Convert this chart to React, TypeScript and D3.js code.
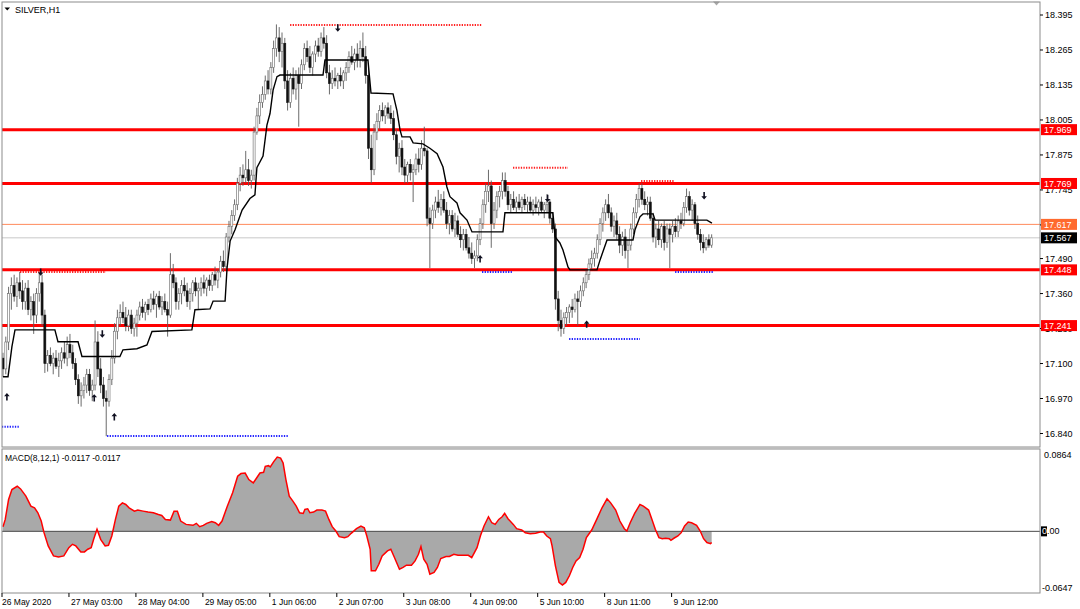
import React from 'react';
import * as d3 from 'd3';

const W = 1080;
const H = 609;

// ---------- time axis ----------
const timeLabels = ["26 May 2020", "27 May 03:00", "28 May 04:00", "29 May 05:00", "1 Jun 06:00", "2 Jun 07:00", "3 Jun 08:00", "4 Jun 09:00", "5 Jun 10:00", "8 Jun 11:00", "9 Jun 12:00"];
const barsPerLabel = 24;

// ---------- price axis ----------
const priceTicks = [18.395, 18.265, 18.135, 18.005, 17.875, 17.745, 17.615, 17.49, 17.36, 17.23, 17.1, 16.97, 16.84];
const levelLines = [17.969, 17.769, 17.448, 17.241];
const askPrice = 17.617;
const bidPrice = 17.567;

// ---------- candles [open, high, low, close] per label period ----------
const bars26May = [
  [17.12,17.14,17.05,17.08],[17.08,17.20,17.06,17.18],[17.18,17.385,17.15,17.36],[17.36,17.42,17.30,17.39],
  [17.39,17.43,17.33,17.35],[17.35,17.42,17.31,17.40],[17.40,17.44,17.34,17.37],[17.37,17.41,17.30,17.33],
  [17.33,17.40,17.30,17.38],[17.38,17.41,17.28,17.30],[17.30,17.35,17.26,17.33],[17.33,17.36,17.21,17.28],
  [17.28,17.38,17.25,17.36],[17.36,17.44,17.33,17.40],[17.40,17.43,17.24,17.28],[17.28,17.30,17.065,17.10],
  [17.10,17.15,17.07,17.13],[17.13,17.16,17.09,17.10],[17.10,17.14,17.06,17.12],[17.12,17.15,17.08,17.09],
  [17.09,17.14,17.05,17.11],[17.11,17.16,17.08,17.14],[17.14,17.18,17.10,17.12],[17.12,17.20,17.09,17.17],
];
const bars27May = [
  [17.17,17.21,17.12,17.14],[17.14,17.17,17.08,17.10],[17.10,17.12,17.02,17.04],[17.04,17.06,16.95,16.98],
  [16.98,17.03,16.94,17.00],[17.00,17.05,16.97,17.02],[17.02,17.08,16.99,17.06],[17.06,17.08,16.98,17.00],
  [17.00,17.04,16.96,17.02],[17.02,17.26,17.00,17.18],[17.18,17.22,17.05,17.08],[17.08,17.12,16.99,17.02],
  [17.02,17.05,16.94,16.97],[16.97,17.00,16.83,16.96],[16.96,17.06,16.94,17.04],[17.04,17.15,17.02,17.12],
  [17.12,17.25,17.10,17.22],[17.22,17.30,17.19,17.27],[17.27,17.32,17.24,17.29],[17.29,17.33,17.25,17.27],
  [17.27,17.31,17.22,17.24],[17.24,17.30,17.22,17.28],[17.28,17.30,17.21,17.23],[17.23,17.27,17.20,17.25],
];
const bars28May = [
  [17.25,17.30,17.20,17.28],[17.28,17.33,17.26,17.31],[17.31,17.34,17.27,17.29],[17.29,17.33,17.26,17.32],
  [17.32,17.34,17.28,17.30],[17.30,17.36,17.29,17.34],[17.34,17.37,17.30,17.32],[17.32,17.36,17.27,17.35],
  [17.35,17.37,17.30,17.31],[17.31,17.35,17.28,17.33],[17.33,17.36,17.29,17.30],[17.30,17.33,17.20,17.28],
  [17.28,17.51,17.27,17.43],[17.43,17.47,17.38,17.40],[17.40,17.42,17.30,17.33],[17.33,17.38,17.30,17.36],
  [17.36,17.41,17.32,17.39],[17.39,17.42,17.35,17.37],[17.37,17.40,17.31,17.33],[17.33,17.38,17.30,17.36],
  [17.36,17.41,17.33,17.40],[17.40,17.42,17.35,17.37],[17.37,17.40,17.30,17.38],[17.38,17.42,17.35,17.40],
];
const bars29May = [
  [17.40,17.43,17.36,17.38],[17.38,17.42,17.35,17.41],[17.41,17.43,17.37,17.39],[17.39,17.44,17.37,17.43],
  [17.43,17.46,17.39,17.41],[17.41,17.45,17.38,17.44],[17.44,17.50,17.42,17.48],[17.48,17.52,17.44,17.46],
  [17.46,17.585,17.45,17.57],[17.57,17.63,17.55,17.61],[17.61,17.67,17.58,17.65],[17.65,17.71,17.63,17.69],
  [17.69,17.79,17.67,17.77],[17.77,17.83,17.74,17.80],[17.80,17.84,17.76,17.79],[17.79,17.89,17.77,17.82],
  [17.82,17.86,17.76,17.78],[17.78,17.82,17.75,17.80],[17.80,17.98,17.78,17.96],[17.96,18.05,17.95,18.02],
  [18.02,18.10,17.99,18.07],[18.07,18.13,18.05,18.10],[18.10,18.17,18.08,18.15],[18.15,18.19,18.10,18.12],
];
const bars1Jun = [
  [18.12,18.22,18.10,18.20],[18.20,18.30,18.18,18.27],[18.27,18.36,18.24,18.31],[18.31,18.35,18.22,18.26],
  [18.26,18.33,18.20,18.29],[18.29,18.31,18.12,18.15],[18.15,18.19,18.04,18.07],[18.07,18.18,18.05,18.16],
  [18.16,18.20,18.10,18.12],[18.12,18.19,18.08,18.17],[18.17,18.20,17.98,18.14],[18.14,18.23,18.12,18.21],
  [18.21,18.29,18.19,18.27],[18.27,18.30,18.22,18.24],[18.24,18.28,18.18,18.20],[18.20,18.26,18.17,18.25],
  [18.25,18.30,18.22,18.28],[18.28,18.31,18.24,18.26],[18.26,18.33,18.24,18.31],[18.31,18.35,18.27,18.29],
  [18.29,18.32,18.16,18.18],[18.18,18.21,18.10,18.14],[18.14,18.19,18.12,18.16],[18.16,18.20,18.13,18.15],
];
const bars2Jun = [
  [18.15,18.18,18.12,18.17],[18.17,18.20,18.13,18.15],[18.15,18.19,18.12,18.18],[18.18,18.22,18.15,18.20],
  [18.20,18.26,18.18,18.24],[18.24,18.28,18.21,18.22],[18.22,18.27,18.19,18.25],[18.25,18.29,18.20,18.23],
  [18.23,18.30,18.20,18.27],[18.27,18.33,18.22,18.24],[18.24,18.28,18.14,18.17],[18.17,18.20,17.86,17.90],
  [17.90,17.95,17.77,17.82],[17.82,17.99,17.80,17.96],[17.96,18.03,17.93,18.00],[18.00,18.06,17.97,18.04],
  [18.04,18.07,18.00,18.02],[18.02,18.06,17.99,18.05],[18.05,18.07,18.01,18.03],[18.03,18.06,17.99,18.01],
  [18.01,18.04,17.93,17.95],[17.95,17.97,17.84,17.87],[17.87,17.92,17.81,17.90],[17.90,17.93,17.80,17.83],
];
const bars3Jun = [
  [17.83,17.86,17.77,17.80],[17.80,17.85,17.77,17.84],[17.84,17.86,17.78,17.81],[17.81,17.84,17.70,17.82],
  [17.82,17.88,17.80,17.86],[17.86,17.90,17.81,17.84],[17.84,17.93,17.82,17.90],[17.90,17.98,17.87,17.89],
  [17.89,17.90,17.61,17.64],[17.64,17.68,17.455,17.62],[17.62,17.69,17.60,17.67],[17.67,17.72,17.64,17.70],
  [17.70,17.745,17.66,17.68],[17.68,17.73,17.65,17.71],[17.71,17.74,17.66,17.67],[17.67,17.70,17.60,17.62],
  [17.62,17.67,17.58,17.65],[17.65,17.67,17.59,17.60],[17.60,17.66,17.57,17.63],[17.63,17.65,17.57,17.58],
  [17.58,17.61,17.53,17.56],[17.56,17.60,17.52,17.58],[17.58,17.60,17.52,17.53],[17.53,17.57,17.49,17.51],
];
const bars4Jun = [
  [17.51,17.55,17.47,17.49],[17.49,17.52,17.455,17.50],[17.50,17.58,17.48,17.56],[17.56,17.64,17.54,17.62],
  [17.62,17.71,17.60,17.69],[17.69,17.77,17.66,17.74],[17.74,17.82,17.70,17.76],[17.76,17.78,17.53,17.62],
  [17.62,17.70,17.60,17.67],[17.67,17.74,17.64,17.72],[17.72,17.76,17.68,17.74],[17.74,17.81,17.71,17.78],
  [17.78,17.81,17.72,17.74],[17.74,17.76,17.67,17.69],[17.69,17.73,17.66,17.71],[17.71,17.74,17.67,17.68],
  [17.68,17.72,17.66,17.70],[17.70,17.73,17.67,17.68],[17.68,17.72,17.66,17.71],[17.71,17.73,17.67,17.69],
  [17.69,17.72,17.66,17.70],[17.70,17.72,17.66,17.67],[17.67,17.71,17.65,17.69],[17.69,17.72,17.66,17.68],
];
const bars5Jun = [
  [17.68,17.71,17.65,17.70],[17.70,17.72,17.66,17.67],[17.67,17.70,17.64,17.69],[17.69,17.73,17.66,17.70],
  [17.70,17.71,17.62,17.64],[17.64,17.66,17.585,17.60],[17.60,17.62,17.30,17.34],[17.34,17.37,17.22,17.26],
  [17.26,17.30,17.20,17.23],[17.23,17.29,17.21,17.27],[17.27,17.31,17.24,17.29],[17.29,17.32,17.25,17.31],
  [17.31,17.34,17.27,17.30],[17.30,17.36,17.29,17.34],[17.34,17.37,17.24,17.33],[17.33,17.39,17.31,17.37],
  [17.37,17.42,17.35,17.40],[17.40,17.45,17.38,17.43],[17.43,17.49,17.41,17.47],[17.47,17.52,17.45,17.49],
  [17.49,17.53,17.46,17.51],[17.51,17.58,17.49,17.56],[17.56,17.64,17.54,17.62],[17.62,17.68,17.59,17.66],
];
const bars8Jun = [
  [17.66,17.71,17.63,17.69],[17.69,17.73,17.64,17.66],[17.66,17.68,17.59,17.61],[17.61,17.65,17.57,17.63],
  [17.63,17.66,17.56,17.58],[17.58,17.61,17.51,17.54],[17.54,17.59,17.50,17.57],[17.57,17.60,17.49,17.52],
  [17.52,17.56,17.455,17.54],[17.54,17.62,17.52,17.60],[17.60,17.68,17.58,17.66],[17.66,17.73,17.64,17.71],
  [17.71,17.77,17.68,17.75],[17.75,17.77,17.69,17.71],[17.71,17.74,17.67,17.69],[17.69,17.72,17.65,17.70],
  [17.70,17.72,17.63,17.64],[17.64,17.66,17.55,17.57],[17.57,17.62,17.53,17.60],[17.60,17.63,17.54,17.56],
  [17.56,17.62,17.53,17.61],[17.61,17.63,17.52,17.55],[17.55,17.62,17.53,17.60],[17.60,17.62,17.455,17.58],
];
const bars9Jun = [
  [17.58,17.63,17.55,17.61],[17.61,17.64,17.57,17.59],[17.59,17.65,17.57,17.63],[17.63,17.66,17.60,17.62],
  [17.62,17.70,17.61,17.68],[17.68,17.75,17.66,17.72],[17.72,17.74,17.65,17.67],[17.67,17.71,17.63,17.69],
  [17.69,17.70,17.60,17.62],[17.62,17.65,17.56,17.58],[17.58,17.60,17.52,17.55],[17.55,17.58,17.51,17.53],
  [17.53,17.57,17.52,17.56],[17.56,17.58,17.53,17.54],[17.54,17.58,17.53,17.567],
];

// ---------- black trailing line: [bar index, price] ----------
const trailIdx = [0, 1.8, 3.2, 4.3, 18.6, 19.7, 26.9, 28.3, 41.9, 43.0, 48.0, 51.6, 53.4, 67.7, 68.8, 74.2, 75.3, 79.6, 80.3, 81.4, 83.2, 85.7, 88.5, 90.3, 91.0, 93.2, 94.6, 95.7, 96.8, 98.2, 99.3, 114.7, 115.4, 130.8, 131.9, 139.8, 141.2, 142.3, 143.0, 145.9, 147.0, 150.5, 153.0, 155.6, 157.7, 159.1, 160.2, 162.7, 163.8, 166.3, 168.1, 179.2, 179.9, 197.1, 197.9, 199.6, 200.7, 202.5, 203.2, 212.9, 214.0, 216.5, 225.8, 226.5, 228.3, 229.4, 233.0, 233.7, 252.3, 254.1];
const trailPrice = [17.051, 17.051, 17.163, 17.225, 17.225, 17.181, 17.181, 17.126, 17.126, 17.151, 17.155, 17.169, 17.219, 17.225, 17.300, 17.303, 17.332, 17.332, 17.454, 17.555, 17.598, 17.670, 17.713, 17.727, 17.828, 17.871, 17.986, 18.029, 18.116, 18.166, 18.172, 18.172, 18.228, 18.228, 18.105, 18.102, 18.040, 17.968, 17.942, 17.942, 17.920, 17.916, 17.900, 17.880, 17.830, 17.756, 17.720, 17.697, 17.660, 17.633, 17.589, 17.589, 17.660, 17.660, 17.570, 17.548, 17.522, 17.459, 17.448, 17.448, 17.485, 17.559, 17.559, 17.596, 17.645, 17.656, 17.656, 17.633, 17.633, 17.622];

// ---------- fractal arrows ----------
const arrowIdx = [1.4, 13.5, 32.7, 35.6, 39.9, 120.0, 171.0, 195.2, 209.2, 251.3];
const arrowPrice = [16.976, 17.440, 16.972, 17.210, 16.902, 18.347, 17.489, 17.714, 17.246, 17.724];
const arrowDir = ["up", "down", "up", "down", "up", "down", "up", "down", "up", "down"];

// ---------- dotted support / resistance segments ----------
const resFrom = [102.9, 6.1, 182.8, 228.7];
const resTo = [171.7, 36.9, 202.5, 240.5];
const resPrice = [18.358, 17.440, 17.827, 17.778];
const supFrom = [-0.4, 37.3, 171.7, 202.9, 240.9];
const supTo = [6.1, 102.2, 182.4, 228.3, 254.5];
const supPrice = [16.865, 16.831, 17.440, 17.191, 17.440];

// ---------- MACD(8,12,1) ----------
const macdIdx = [0, 0.8, 2.0, 3.2, 5.1, 6.3, 8.2, 10.0, 11.3, 12.5, 13.7, 14.7, 16.2, 18.1, 19.9, 21.8, 23.6, 24.9, 26.1, 27.9, 29.2, 30.4, 31.6, 32.5, 33.7, 35.0, 36.6, 37.8, 39.0, 40.3, 41.5, 42.8, 44.0, 45.2, 47.1, 48.3, 50.2, 52.0, 53.9, 55.7, 56.9, 58.2, 60.0, 61.3, 62.5, 63.7, 65.6, 68.1, 69.3, 70.5, 71.8, 73.0, 74.8, 76.1, 77.3, 78.5, 80.4, 82.3, 84.1, 85.3, 86.8, 88.1, 89.7, 90.9, 92.1, 93.4, 94.0, 95.2, 95.8, 97.1, 98.3, 99.5, 100.4, 101.4, 102.6, 103.9, 105.1, 106.3, 107.6, 108.2, 109.2, 110.0, 111.3, 112.5, 114.3, 115.6, 116.8, 118.0, 119.3, 120.5, 122.4, 123.6, 124.8, 126.7, 128.3, 129.5, 130.4, 131.6, 132.0, 133.5, 134.7, 135.9, 137.8, 139.0, 140.3, 142.1, 143.4, 144.6, 146.4, 147.7, 148.9, 149.8, 150.8, 152.0, 153.0, 154.5, 155.7, 156.9, 158.8, 160.0, 161.6, 163.1, 165.0, 166.8, 168.0, 169.9, 171.1, 172.4, 174.0, 175.2, 176.4, 177.7, 178.9, 179.8, 181.0, 182.9, 184.1, 185.9, 187.2, 189.0, 190.9, 192.5, 193.7, 194.9, 196.2, 196.8, 198.0, 199.3, 200.5, 201.7, 203.0, 204.2, 205.4, 206.7, 207.9, 209.1, 211.0, 212.8, 214.7, 216.5, 217.8, 219.6, 221.1, 222.7, 223.6, 224.8, 226.4, 228.3, 229.5, 231.4, 232.6, 233.8, 235.1, 236.3, 237.5, 238.8, 239.4, 240.6, 241.9, 243.1, 244.3, 245.6, 246.8, 248.6, 249.9, 251.1, 252.3, 253.6, 254.0];
const macdVal = [0.0049, 0.0125, 0.0334, 0.0438, 0.0473, 0.0445, 0.0369, 0.0264, 0.0247, 0.0195, 0.0108, -0.0014, -0.0153, -0.0258, -0.0268, -0.0258, -0.0171, -0.0136, -0.0153, -0.0216, -0.0216, -0.0188, -0.0171, -0.0084, 0.0021, -0.0084, -0.0153, -0.0146, -0.0049, 0.0125, 0.0264, 0.0299, 0.0282, 0.0247, 0.0212, 0.0223, 0.0212, 0.0202, 0.0195, 0.0177, 0.0167, 0.0125, 0.0118, 0.0212, 0.0212, 0.0108, 0.0073, 0.0063, 0.0084, 0.0049, 0.0063, 0.0084, 0.0104, 0.0090, 0.0063, 0.0108, 0.0264, 0.0404, 0.0578, 0.0606, 0.0612, 0.0543, 0.0508, 0.0560, 0.0612, 0.0619, 0.0682, 0.0689, 0.0675, 0.0734, 0.0780, 0.0769, 0.0717, 0.0543, 0.0369, 0.0317, 0.0264, 0.0195, 0.0188, 0.0230, 0.0237, 0.0195, 0.0202, 0.0223, 0.0223, 0.0212, 0.0125, 0.0049, 0.0003, -0.0056, -0.0066, -0.0056, -0.0021, 0.0028, 0.0056, 0.0038, -0.0049, -0.0188, -0.0414, -0.0414, -0.0345, -0.0258, -0.0205, -0.0188, -0.0275, -0.0397, -0.0379, -0.0355, -0.0355, -0.0310, -0.0240, -0.0160, -0.0292, -0.0345, -0.0449, -0.0432, -0.0379, -0.0285, -0.0264, -0.0264, -0.0240, -0.0251, -0.0251, -0.0251, -0.0275, -0.0171, -0.0049, 0.0056, 0.0153, 0.0090, 0.0073, 0.0125, 0.0153, 0.0188, 0.0132, 0.0073, 0.0028, 0.0014, -0.0014, -0.0024, -0.0021, -0.0007, -0.0007, -0.0049, -0.0077, -0.0153, -0.0362, -0.0536, -0.0564, -0.0536, -0.0466, -0.0379, -0.0310, -0.0275, -0.0188, -0.0066, 0.0014, 0.0125, 0.0247, 0.0341, 0.0299, 0.0223, 0.0108, 0.0028, 0.0003, 0.0090, 0.0188, 0.0282, 0.0264, 0.0223, 0.0125, 0.0021, -0.0066, -0.0077, -0.0073, -0.0077, -0.0094, -0.0070, -0.0049, -0.0014, 0.0056, 0.0097, 0.0090, 0.0063, 0.0003, -0.0077, -0.0118, -0.0129, -0.0117];
const macdMax = 0.0864;
const macdMin = -0.0647;

const FONT = "'Liberation Sans', Arial, sans-serif";

function arrowPath(cx: number, cy: number, dir: string): string {
  const s = dir === "up" ? 1 : -1;
  const tip = cy - 3.8 * s;
  const base = cy - 0.6 * s;
  const tail = cy + 3.6 * s;
  return `M${cx},${tip} L${cx + 2.8},${base} L${cx + 0.8},${base} L${cx + 0.8},${tail} L${cx - 0.8},${tail} L${cx - 0.8},${base} L${cx - 2.8},${base} Z`;
}

export default function App() {
  const candles = [...bars26May, ...bars27May, ...bars28May, ...bars29May, ...bars1Jun, ...bars2Jun, ...bars3Jun, ...bars4Jun, ...bars5Jun, ...bars8Jun, ...bars9Jun];
  const n = candles.length;

  const left = 2, right = 1040, mainTop = 2, mainBottom = 447, macdTop = 449, macdBottom = 593;

  const x = d3.scaleLinear().domain([0, n - 1]).range([3, 3 + 2.79 * (n - 1)]);
  const y = d3.scaleLinear().domain([16.84, 18.395]).range([433.5, 15]);
  const ym = d3.scaleLinear().domain([macdMin, macdMax]).range([macdBottom, macdTop]);

  const trailLine = d3.line<number>().x((d) => x(trailIdx[d])).y((d) => y(trailPrice[d]));
  const macdPts = macdIdx.map((v, i) => i);
  const macdArea = d3.area<number>().x((d) => x(macdIdx[d])).y0(ym(0)).y1((d) => ym(macdVal[d]));
  const macdLine = d3.line<number>().x((d) => x(macdIdx[d])).y((d) => ym(macdVal[d]));

  const bw = 2;

  const label = (price: number, bg: string, txt: string, key: string) => (
    <g key={key}>
      <rect x={right + 1} y={y(price) - 5.5} width={36} height={11} fill={bg} />
      <text x={right + 4} y={y(price)} dy="0.35em" fontSize={9} fill="#fff" fontFamily={FONT}>{txt}</text>
    </g>
  );

  return (
    <svg width={W} height={H} style={{ position: 'absolute', left: 0, top: 0, background: '#fff' }}>
      <rect x={0} y={0} width={W} height={H} fill="#fff" />
      <defs>
        <clipPath id="mainClip"><rect x={left} y={mainTop} width={right - left} height={mainBottom - mainTop} /></clipPath>
        <clipPath id="macdClip"><rect x={left} y={macdTop} width={right - left} height={macdBottom - macdTop} /></clipPath>
      </defs>

      {/* ---------- main pane ---------- */}
      <g clipPath="url(#mainClip)">
        <line x1={left} x2={right} y1={y(bidPrice)} y2={y(bidPrice)} stroke="#c8c8c8" strokeWidth={1} />
        <line x1={left} x2={right} y1={y(askPrice)} y2={y(askPrice)} stroke="#ff8a5c" strokeWidth={1} />
        {levelLines.map((p, i) => (
          <line key={`lv${i}`} x1={left} x2={right} y1={y(p)} y2={y(p)} stroke="#ff0000" strokeWidth={3} />
        ))}
        {resPrice.map((p, i) => (
          <line key={`rs${i}`} x1={x(resFrom[i])} x2={x(resTo[i])} y1={y(p)} y2={y(p)} stroke="#ff2020" strokeWidth={2} strokeDasharray="1.3 1.3" />
        ))}
        {supPrice.map((p, i) => (
          <line key={`sp${i}`} x1={x(supFrom[i])} x2={x(supTo[i])} y1={y(p)} y2={y(p)} stroke="#2020ff" strokeWidth={2} strokeDasharray="1.3 1.3" />
        ))}
        {candles.map((c, i) => {
          const [o, h, l, cl] = c;
          const cx = x(i);
          const bull = cl >= o;
          const top = y(Math.max(o, cl));
          const bot = y(Math.min(o, cl));
          return (
            <g key={`c${i}`}>
              <line x1={cx} x2={cx} y1={y(h)} y2={y(l)} stroke="#5a5a5a" strokeWidth={0.9} />
              <rect x={cx - bw / 2} y={top} width={bw} height={Math.max(0.8, bot - top)}
                fill={bull ? '#ffffff' : '#111111'} stroke={bull ? '#6a6a6a' : '#111111'} strokeWidth={0.6} />
            </g>
          );
        })}
        <path d={trailLine(trailIdx.map((_, i) => i)) || ''} fill="none" stroke="#000" strokeWidth={1.4} />
        {arrowIdx.map((a, i) => (
          <path key={`ar${i}`} d={arrowPath(x(a), y(arrowPrice[i]), arrowDir[i])} fill="#101020" />
        ))}
      </g>

      {/* title */}
      <path d="M4.5,7.5 L10,7.5 L7.25,10.5 Z" fill="#000" />
      <text x={15} y={9.5} dy="0.35em" fontSize={9} fontFamily={FONT} fill="#000">SILVER,H1</text>
      <path d="M713,1.5 L720,1.5 L716.5,5.5 Z" fill="#a8a8a8" />

      {/* ---------- MACD pane ---------- */}
      <g clipPath="url(#macdClip)">
        <path d={macdArea(macdPts) || ''} fill="#a9a9a9" />
        <line x1={left} x2={right} y1={ym(0)} y2={ym(0)} stroke="#4a4a4a" strokeWidth={1} />
        <path d={macdLine(macdPts) || ''} fill="none" stroke="#ff0000" strokeWidth={1.5} />
      </g>
      <text x={5} y={458} dy="0.35em" fontSize={8.5} fontFamily={FONT} fill="#000">MACD(8,12,1) -0.0117 -0.0117</text>

      {/* frames */}
      <rect x={left} y={mainTop} width={right - left} height={mainBottom - mainTop} fill="none" stroke="#8c8c8c" strokeWidth={1} />
      <rect x={left} y={macdTop} width={right - left} height={macdBottom - macdTop} fill="none" stroke="#8c8c8c" strokeWidth={1} />
      <line x1={left} x2={right} y1={mainBottom + 1} y2={mainBottom + 1} stroke="#b4b4b4" strokeWidth={1} />

      {/* price axis */}
      {priceTicks.map((t, i) => (
        <g key={`pt${i}`}>
          <line x1={right} x2={right + 3} y1={y(t)} y2={y(t)} stroke="#000" strokeWidth={1} />
          <text x={right + 5} y={y(t)} dy="0.35em" fontSize={9} fontFamily={FONT} fill="#000">{t.toFixed(3)}</text>
        </g>
      ))}
      {label(askPrice, '#ff6a2e', askPrice.toFixed(3), 'ask')}
      {label(bidPrice, '#000000', bidPrice.toFixed(3), 'bid')}
      {levelLines.map((p, i) => label(p, '#ff0000', p.toFixed(3), `ll${i}`))}

      {/* MACD axis */}
      <text x={right + 4} y={455} dy="0.35em" fontSize={9} fontFamily={FONT} fill="#000">{macdMax.toFixed(4)}</text>
      <text x={right + 2} y={588} dy="0.35em" fontSize={9} fontFamily={FONT} fill="#000">{macdMin.toFixed(4)}</text>
      <rect x={right + 1} y={ym(0) - 5} width={6} height={10} fill="#000" />
      <text x={right + 2} y={ym(0)} dy="0.35em" fontSize={9} fontFamily={FONT} fill="#000">
        <tspan fill="#fff">0</tspan><tspan>.00</tspan>
      </text>

      {/* time axis */}
      {timeLabels.map((t, i) => {
        const tx = x(i * barsPerLabel) - 1;
        return (
          <g key={`tl${i}`}>
            <line x1={tx} x2={tx} y1={macdBottom} y2={macdBottom + 4} stroke="#000" strokeWidth={1} />
            <text x={i === 0 ? 2 : tx + 2} y={605} fontSize={8.5} fontFamily={FONT} fill="#000">{t}</text>
          </g>
        );
      })}
    </svg>
  );
}
